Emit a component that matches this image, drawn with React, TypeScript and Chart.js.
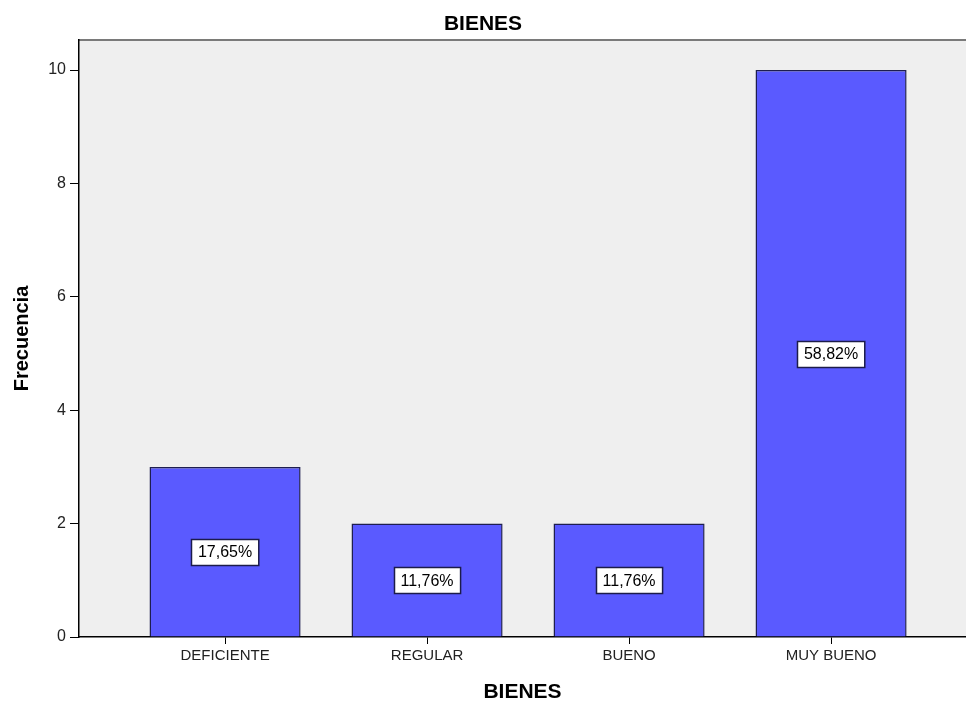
import React, { useEffect, useRef } from "react";
import { Chart, registerables } from "chart.js";

Chart.register(...registerables);

const categories: string[] = ["DEFICIENTE", "REGULAR", "BUENO", "MUY BUENO"];
const frequencies: number[] = [3, 2, 2, 10];
const percentLabels: string[] = ["17,65%", "11,76%", "11,76%", "58,82%"];
const yTicks: number[] = [0, 2, 4, 6, 8, 10];
const chartTitle = "BIENES";
const xTitle = "BIENES";
const yTitle = "Frecuencia";

const FONT = "'Liberation Sans', Arial, sans-serif";

const bgPlugin = {
  id: "plotBg",
  beforeDraw(chart: any) {
    const { ctx, chartArea } = chart;
    ctx.save();
    ctx.fillStyle = "#efefef";
    ctx.fillRect(chartArea.left, chartArea.top, chartArea.right - chartArea.left, chartArea.bottom - chartArea.top);
    ctx.strokeStyle = "#7a7a7a";
    ctx.lineWidth = 2;
    ctx.beginPath();
    ctx.moveTo(chartArea.left, chartArea.top);
    ctx.lineTo(chartArea.right, chartArea.top);
    ctx.stroke();
    ctx.restore();
  },
};

const labelPlugin = {
  id: "pctLabels",
  afterDatasetsDraw(chart: any) {
    const { ctx } = chart;
    const meta = chart.getDatasetMeta(0);
    const yScale = chart.scales.y;
    ctx.save();
    ctx.font = `16px ${FONT}`;
    ctx.textAlign = "center";
    ctx.textBaseline = "middle";
    meta.data.forEach((bar: any, i: number) => {
      const text = percentLabels[i];
      const cy = yScale.getPixelForValue(frequencies[i] / 2);
      const w = ctx.measureText(text).width + 13;
      const h = 26;
      const x0 = Math.round(bar.x - w / 2) + 0.5;
      const y0 = Math.round(cy - h / 2) + 0.5;
      ctx.fillStyle = "#ffffff";
      ctx.fillRect(x0, y0, w, h);
      ctx.strokeStyle = "#1c1c4a";
      ctx.lineWidth = 1.5;
      ctx.strokeRect(x0, y0, w, h);
      ctx.fillStyle = "#000000";
      ctx.fillText(text, bar.x, cy + 1);
    });
    ctx.restore();
  },
};

export default function App() {
  const ref = useRef<HTMLCanvasElement | null>(null);

  useEffect(() => {
    if (!ref.current) return;
    const chart = new Chart(ref.current, {
      type: "bar",
      data: {
        datasets: [
          {
            data: frequencies.map((v, i) => ({ x: i, y: v })) as any,
            backgroundColor: "#5a5aff",
            borderColor: "#1e1e50",
            borderWidth: 1.5,
            barPercentage: 1,
            categoryPercentage: 0.748,
          },
        ],
      },
      options: {
        animation: false,
        responsive: true,
        maintainAspectRatio: false,
        layout: { padding: 0 },
        plugins: {
          legend: { display: false },
          tooltip: { enabled: false },
          title: {
            display: true,
            text: chartTitle,
            color: "#000",
            font: { family: FONT, size: 21, weight: "bold", lineHeight: 1.2 },
            padding: { top: 12, bottom: 2.8 },
          },
        },
        scales: {
          x: {
            type: "linear",
            min: -0.723,
            max: 3.668,
            offset: false,
            afterBuildTicks: (scale: any) => {
              scale.ticks = categories.map((_, i) => ({ value: i }));
            },
            afterFit: (scale: any) => {
              scale.height = 64;
            },
            ticks: {
              autoSkip: false,
              maxRotation: 0,
              color: "#222",
              padding: 3,
              font: { family: FONT, size: 15 },
              callback: (v: any) => categories[v as number] ?? "",
            },
            grid: {
              display: true,
              offset: false,
              drawOnChartArea: false,
              drawTicks: true,
              tickLength: 7,
              color: "#000",
            },
            border: { display: true, color: "#000", width: 1.5 },
            title: {
              display: true,
              text: xTitle,
              color: "#000",
              font: { family: FONT, size: 21, weight: "bold", lineHeight: 0.8 },
              padding: { top: 0, bottom: 0 },
            },
          },
          y: {
            type: "linear",
            min: 0,
            max: 10.53,
            afterBuildTicks: (scale: any) => {
              scale.ticks = yTicks.map((v) => ({ value: v }));
            },
            afterFit: (scale: any) => {
              scale.width = 79;
            },
            ticks: {
              color: "#222",
              padding: 4,
              font: { family: FONT, size: 16 },
            },
            grid: {
              display: true,
              drawOnChartArea: false,
              drawTicks: true,
              tickLength: 9,
              color: "#000",
            },
            border: { display: true, color: "#000", width: 1.5 },
            title: {
              display: true,
              text: yTitle,
              color: "#000",
              font: { family: FONT, size: 20, weight: "bold", lineHeight: 1 },
              padding: { top: 12, bottom: 0 },
            },
          },
        },
      },
      plugins: [bgPlugin, labelPlugin],
    });
    return () => chart.destroy();
  }, []);

  return (
    <div style={{ position: "fixed", left: 0, top: 0, width: 966, height: 701, background: "#fff" }}>
      <canvas ref={ref} />
    </div>
  );
}
